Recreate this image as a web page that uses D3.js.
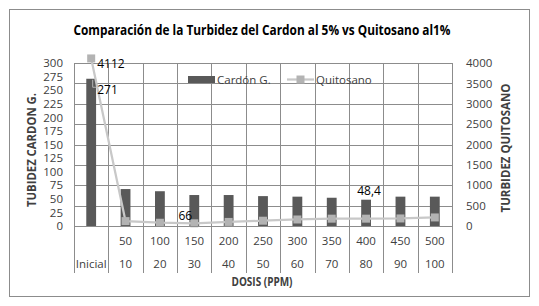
<!DOCTYPE html>
<html>
<head>
<meta charset="utf-8">
<script src="https://cdn.jsdelivr.net/npm/d3@7"></script>
<style>
  body { margin: 0; background: #fff; }
  text { font-family: "Open Sans", "Liberation Sans", sans-serif; fill: #404040; }
</style>
</head>
<body>
<svg width="539" height="306"></svg>
<script>
// categories (two-level axis: dose in ppm over % level)
const dosisPpm = ["", "50", "100", "150", "200", "250", "300", "350", "400", "450", "500"];
const dosisPct = ["Inicial", "10", "20", "30", "40", "50", "60", "70", "80", "90", "100"];

// series values
const cardon = [271, 68, 64, 57, 57, 55, 54, 52, 48.4, 54, 54];
const quitosano = [4112, 120, 80, 66, 100, 130, 160, 180, 180, 185, 210];

// tick labels
const leftTicks = [0, 25, 50, 75, 100, 125, 150, 175, 200, 225, 250, 275, 300];
const rightTicks = [0, 500, 1000, 1500, 2000, 2500, 3000, 3500, 4000];

// which points carry a data label
const cardonLabels = [0, 8];
const quitosanoLabels = [0, 3];

const svg = d3.select("svg");

// outer border
svg.append("rect")
  .attr("x", 9.5).attr("y", 9.5)
  .attr("width", 520).attr("height", 287)
  .attr("fill", "#fff")
  .attr("stroke", "#8c8c8c");

const plot = {left: 74, right: 452, top: 63, bottom: 226};

const x = d3.scaleBand()
  .domain(dosisPct)
  .range([plot.left, plot.right]);

const yL = d3.scaleLinear().domain([0, 300]).range([plot.bottom, plot.top]);
const yR = d3.scaleLinear().domain([0, 4000]).range([plot.bottom, plot.top]);

// title
svg.append("text")
  .attr("x", 262).attr("y", 35)
  .attr("text-anchor", "middle")
  .attr("textLength", 377)
  .attr("lengthAdjust", "spacingAndGlyphs")
  .style("font-size", "14px")
  .style("font-weight", "bold")
  .style("fill", "#000")
  .text("Comparación de la Turbidez del Cardon al 5% vs Quitosano al1%");

// horizontal gridlines
svg.append("g")
  .selectAll("line")
  .data(rightTicks)
  .join("line")
    .attr("x1", plot.left).attr("x2", plot.right)
    .attr("y1", d => Math.round(yR(d)) + 0.5)
    .attr("y2", d => Math.round(yR(d)) + 0.5)
    .attr("stroke", "#8c8c8c");

// vertical gridlines + category separators (run down through the label rows)
const bounds = dosisPct.map(d => x(d)).concat([plot.right]);
svg.append("g")
  .selectAll("line")
  .data(bounds)
  .join("line")
    .attr("x1", d => Math.round(d) + 0.5).attr("x2", d => Math.round(d) + 0.5)
    .attr("y1", plot.top).attr("y2", 273)
    .attr("stroke", "#8c8c8c");

// bars
const barW = x.bandwidth() / 3.5;
svg.append("g")
  .selectAll("rect")
  .data(cardon)
  .join("rect")
    .attr("x", (d, i) => x(dosisPct[i]) + x.bandwidth() / 2 - barW / 2)
    .attr("y", d => yL(d))
    .attr("width", barW)
    .attr("height", d => yL(0) - yL(d))
    .attr("fill", "#595959");

// line
const line = d3.line()
  .x((d, i) => x(dosisPct[i]) + x.bandwidth() / 2)
  .y(d => yR(d));
svg.append("path")
  .datum(quitosano)
  .attr("d", line)
  .attr("fill", "none")
  .attr("stroke", "#c8c8c8")
  .attr("stroke-width", 2.25);

svg.append("g")
  .selectAll("rect")
  .data(quitosano)
  .join("rect")
    .attr("x", (d, i) => x(dosisPct[i]) + x.bandwidth() / 2 - 4)
    .attr("y", d => yR(d) - 4)
    .attr("width", 8).attr("height", 8)
    .attr("fill", "#b3b3b3");

// data labels
svg.append("g")
  .selectAll("text")
  .data(cardonLabels)
  .join("text")
    .attr("x", i => i === 0 ? x(dosisPct[i]) + x.bandwidth() / 2 + 6 : x(dosisPct[i]) + x.bandwidth() / 2 + 3)
    .attr("y", i => i === 0 ? yL(cardon[i]) + 15 : yL(cardon[i]) - 5)
    .attr("text-anchor", i => i === 0 ? "start" : "middle")
    .style("font-size", "12px")
    .style("fill", "#000")
    .text(i => String(cardon[i]).replace(".", ","));

svg.append("g")
  .selectAll("text")
  .data(quitosanoLabels)
  .join("text")
    .attr("x", i => i === 0 ? x(dosisPct[i]) + x.bandwidth() / 2 + 6 : x(dosisPct[i]) + x.bandwidth() / 2 - 9)
    .attr("y", i => i === 0 ? yR(quitosano[i]) + 10 : yR(quitosano[i]) - 3)
    .attr("text-anchor", i => i === 0 ? "start" : "middle")
    .style("font-size", "12px")
    .style("fill", "#000")
    .text(i => quitosano[i]);

// small leader line for the 271 label
const c0 = x(dosisPct[0]) + x.bandwidth() / 2;
svg.append("path")
  .attr("d", `M${c0 + 1.5},${yL(cardon[0]) + 1}V${yL(cardon[0]) + 8.5}H${c0 + 5}`)
  .attr("fill", "none")
  .attr("stroke", "#b3b3b3");

// axes
svg.append("g")
  .attr("transform", `translate(${plot.left},0)`)
  .call(d3.axisLeft(yL).tickValues(leftTicks).tickSize(0).tickPadding(11))
  .call(g => g.select(".domain").attr("stroke", "#8c8c8c"))
  .call(g => g.selectAll("text").style("font-size", "11.5px").attr("fill", "#404040").attr("font-family", null));

svg.append("g")
  .attr("transform", `translate(${plot.right},0)`)
  .call(d3.axisRight(yR).tickValues(rightTicks).tickFormat(d3.format("d")).tickSize(0).tickPadding(14))
  .call(g => g.select(".domain").attr("stroke", "#8c8c8c"))
  .call(g => g.selectAll("text").style("font-size", "11.5px").attr("fill", "#404040").attr("font-family", null));

svg.append("line")
  .attr("x1", plot.left).attr("x2", plot.right)
  .attr("y1", plot.bottom + 0.5).attr("y2", plot.bottom + 0.5)
  .attr("stroke", "#8c8c8c");

// two-level category labels
svg.append("g")
  .selectAll("text")
  .data(dosisPpm)
  .join("text")
    .attr("x", (d, i) => x(dosisPct[i]) + x.bandwidth() / 2)
    .attr("y", 245)
    .attr("text-anchor", "middle")
    .style("font-size", "11.5px")
    .text(d => d);

svg.append("g")
  .selectAll("text")
  .data(dosisPct)
  .join("text")
    .attr("x", d => x(d) + x.bandwidth() / 2)
    .attr("y", 268)
    .attr("text-anchor", "middle")
    .style("font-size", "11.5px")
    .text(d => d);

// axis titles
svg.append("text")
  .attr("transform", "translate(36,150) rotate(-90)")
  .attr("text-anchor", "middle")
  .attr("textLength", 114)
  .attr("lengthAdjust", "spacingAndGlyphs")
  .style("font-size", "11.5px").style("font-weight", "bold")
  .text("TUBIDEZ CARDON G.");

svg.append("text")
  .attr("transform", "translate(510,148) rotate(-90)")
  .attr("text-anchor", "middle")
  .attr("textLength", 129)
  .attr("lengthAdjust", "spacingAndGlyphs")
  .style("font-size", "11.5px").style("font-weight", "bold")
  .text("TURBIDEZ QUITOSANO");

svg.append("text")
  .attr("x", 262).attr("y", 286)
  .attr("text-anchor", "middle")
  .attr("textLength", 61)
  .attr("lengthAdjust", "spacingAndGlyphs")
  .style("font-size", "11.5px").style("font-weight", "bold")
  .text("DOSIS (PPM)");

// legend
const legend = svg.append("g").attr("transform", "translate(188,79)");
legend.append("rect")
  .attr("x", 0).attr("y", -3).attr("width", 27).attr("height", 7)
  .attr("fill", "#595959");
legend.append("text")
  .attr("x", 29).attr("y", 4.5)
  .style("font-size", "11.5px")
  .text("Cardón G.");
legend.append("line")
  .attr("x1", 99).attr("x2", 126).attr("y1", 0.5).attr("y2", 0.5)
  .attr("stroke", "#c8c8c8").attr("stroke-width", 2.25);
legend.append("rect")
  .attr("x", 108.5).attr("y", -3.5).attr("width", 8).attr("height", 8)
  .attr("fill", "#b3b3b3");
legend.append("text")
  .attr("x", 128).attr("y", 4.5)
  .style("font-size", "11.5px")
  .text("Quitosano");
</script>
</body>
</html>
